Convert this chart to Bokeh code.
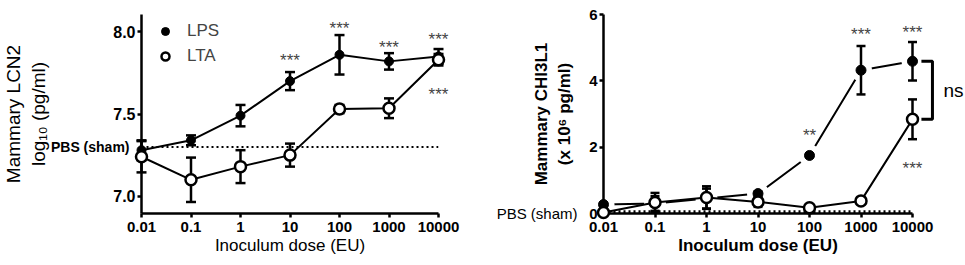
from bokeh.plotting import figure
from bokeh.models import FixedTicker, CustomJSTickFormatter, Legend, LegendItem
from bokeh.layouts import row
from bokeh.core.properties import value
from bokeh.embed import file_html
from bokeh.resources import INLINE

FONT = "Liberation Sans"

# ---------------- data ----------------
doses = [0.01, 0.1, 1, 10, 100, 1000, 10000]

# Left panel: Mammary LCN2, log10 (pg/ml)
lcn2_lps = [7.28, 7.34, 7.49, 7.70, 7.86, 7.82, 7.85]
lcn2_lps_err = [0.06, 0.03, 0.065, 0.055, 0.12, 0.05, 0.045]
lcn2_lta = [7.24, 7.10, 7.18, 7.25, 7.53, 7.535, 7.83]
lcn2_lta_err = [0.095, 0.135, 0.10, 0.07, 0.025, 0.06, 0.035]
lcn2_pbs = 7.30
lcn2_yticks = [7.0, 7.5, 8.0]

lcn2_star_x = [10, 100, 1000, 10000, 10000]
lcn2_star_y = [7.85, 8.045, 7.93, 7.975, 7.645]
lcn2_star_text = ["***", "***", "***", "***", "***"]

# Right panel: Mammary CHI3L1, x 10^6 pg/ml
chi_lps = [0.27, 0.30, 0.45, 0.60, 1.75, 4.32, 4.59]
chi_lps_err = [0.05, 0.22, 0.30, 0.06, 0.05, 0.73, 0.58]
chi_lta = [0.03, 0.33, 0.48, 0.35, 0.17, 0.38, 2.84]
chi_lta_err = [0.03, 0.29, 0.34, 0.15, 0.02, 0.03, 0.60]
chi_pbs = 0.05
chi_yticks = [0, 2, 4, 6]

chi_star_x = [100, 1000, 10000, 10000]
chi_star_y = [2.46, 5.53, 5.58, 1.48]
chi_star_text = ["**", "***", "***", "***"]

# ---------------- helpers ----------------
def style_axes(p, bold_title):
    for ax in (p.xaxis[0], p.yaxis[0]):
        ax.axis_line_width = 2.5
        ax.axis_line_color = "black"
        ax.major_tick_line_width = 2.5
        ax.major_tick_line_color = "black"
        ax.major_tick_in = 0
        ax.major_tick_out = 4
        ax.minor_tick_line_color = None
        ax.major_label_text_font = FONT
        ax.major_label_text_font_style = "bold"
        ax.major_label_text_font_size = "15px"
        ax.major_label_text_color = "black"
        ax.major_label_standoff = 4
        ax.axis_label_text_font = FONT
        ax.axis_label_text_font_style = "bold" if bold_title else "normal"
        ax.axis_label_text_color = "black"
    p.xaxis[0].ticker = FixedTicker(ticks=doses)
    p.xaxis[0].formatter = CustomJSTickFormatter(code="return tick.toString()")
    p.xaxis[0].axis_label = "Inoculum dose (EU)"
    p.xaxis[0].axis_label_text_font_size = "17px"
    p.xaxis[0].axis_label_standoff = 1
    p.yaxis[0].major_label_standoff = 2
    p.grid.visible = False
    p.outline_line_color = None


def error_bars(p, x, y, err, cap=10):
    lo = [v - e for v, e in zip(y, err)]
    hi = [v + e for v, e in zip(y, err)]
    p.segment(x0=x, y0=lo, x1=x, y1=hi, line_width=2.5, line_color="black", level="overlay")
    p.scatter(x, lo, marker="dash", size=cap, line_width=2.5, line_color="black", level="overlay")
    p.scatter(x, hi, marker="dash", size=cap, line_width=2.5, line_color="black", level="overlay")


# ---------------- left panel ----------------
p1 = figure(width=478, height=265, x_axis_type="log",
            x_range=(doses[0], doses[-1]), y_range=(6.895, 8.105),
            output_backend="svg", toolbar_location=None,
            min_border_left=139, min_border_right=40,
            min_border_top=14, min_border_bottom=50)
style_axes(p1, bold_title=False)
p1.yaxis[0].ticker = FixedTicker(ticks=lcn2_yticks)
p1.yaxis[0].formatter = CustomJSTickFormatter(code="return tick.toFixed(1)")
p1.yaxis[0].major_label_text_font_size = "16px"
p1.yaxis[0].axis_label = "Mammary LCN2\nlog\u2081\u2080 (pg/ml)"
p1.yaxis[0].axis_label_text_font_size = "19px"
p1.yaxis[0].axis_label_standoff = 61

p1.line(doses, lcn2_lps, line_width=2, line_color="black")
p1.line(doses, lcn2_lta, line_width=2, line_color="black")
p1.line([doses[0], doses[-1]], [lcn2_pbs, lcn2_pbs], line_width=2,
        line_color="black", line_dash="2 3")
error_bars(p1, doses, lcn2_lps, lcn2_lps_err)
error_bars(p1, doses, lcn2_lta, lcn2_lta_err)
r_lps = p1.scatter(doses, lcn2_lps, marker="circle", size=9, fill_color="black",
                   line_color="black", level="overlay")
r_lta = p1.scatter(doses, lcn2_lta, marker="circle", size=11, fill_color="white",
                   line_color="black", line_width=2.5, level="overlay")
p1.text(x=lcn2_star_x, y=lcn2_star_y, text=lcn2_star_text, text_font=value(FONT),
        text_font_size="17px", text_color="#444444", text_align="center",
        text_baseline="middle", y_offset=4, level="overlay")
p1.text(x=[doses[0]], y=[lcn2_pbs], text=["PBS (sham)"], text_font=value(FONT),
        text_font_size="14px", text_font_style="bold", text_color="black",
        text_align="right", text_baseline="middle", x_offset=-12, level="overlay")

legend = Legend(items=[LegendItem(label="LPS", renderers=[r_lps]),
                       LegendItem(label="LTA", renderers=[r_lta])],
                location=(14, 147), margin=0, padding=0, spacing=5,
                glyph_width=20, glyph_height=20, label_standoff=12,
                label_text_font=FONT, label_text_font_size="17px",
                border_line_color=None, background_fill_alpha=0)
p1.add_layout(legend)

# ---------------- right panel ----------------
p2 = figure(width=487, height=265, x_axis_type="log",
            x_range=(doses[0], doses[-1]), y_range=(0, 6),
            output_backend="svg", toolbar_location=None,
            min_border_left=125, min_border_right=53,
            min_border_top=7, min_border_bottom=52)
style_axes(p2, bold_title=True)
p2.yaxis[0].ticker = FixedTicker(ticks=chi_yticks)
p2.yaxis[0].axis_label = "Mammary CHI3L1\n(x 10\u2076 pg/ml)"
p2.yaxis[0].axis_label_text_font_size = "17px"
p2.yaxis[0].axis_label_standoff = 12

# LPS line drawn with gaps around its points (white halos)
p2.line(doses, chi_lps, line_width=2, line_color="black")
p2.scatter(doses, chi_lps, marker="circle", size=22, fill_color="white", line_color=None)
p2.line(doses, chi_lta, line_width=2, line_color="black")
p2.line([doses[0], doses[-1]], [chi_pbs, chi_pbs], line_width=3,
        line_color="black", line_dash="2 3", level="overlay")
error_bars(p2, doses, chi_lps, chi_lps_err, cap=9)
error_bars(p2, doses, chi_lta, chi_lta_err, cap=9)
p2.scatter(doses, chi_lps, marker="circle", size=10, fill_color="black",
           line_color="black", level="overlay")
p2.scatter(doses, chi_lta, marker="circle", size=11, fill_color="white",
           line_color="black", line_width=2.5, level="overlay")
p2.text(x=chi_star_x, y=chi_star_y, text=chi_star_text, text_font=value(FONT),
        text_font_size="17px", text_color="#444444", text_align="center",
        text_baseline="middle", y_offset=4, level="overlay")
p2.text(x=[doses[0]], y=[0], text=["PBS (sham)"], text_font=value(FONT),
        text_font_size="15px", text_color="black", text_align="right",
        text_baseline="middle", x_offset=-26, level="overlay")

# ns bracket between the two highest-dose means
bx0 = doses[-1] * 1.49
bx1 = doses[-1] * 2.44
p2.line([bx0, bx1, bx1, bx0], [chi_lps[-1], chi_lps[-1], chi_lta[-1], chi_lta[-1]],
        line_width=3, line_color="black", level="overlay")
p2.text(x=[bx1], y=[(chi_lps[-1] + chi_lta[-1]) / 2], text=["ns"], text_font=value(FONT),
        text_font_size="19px", text_color="black", text_align="left",
        text_baseline="middle", x_offset=11, level="overlay")

layout = row(p1, p2)
open("out.html", "w").write(file_html(layout, INLINE))
